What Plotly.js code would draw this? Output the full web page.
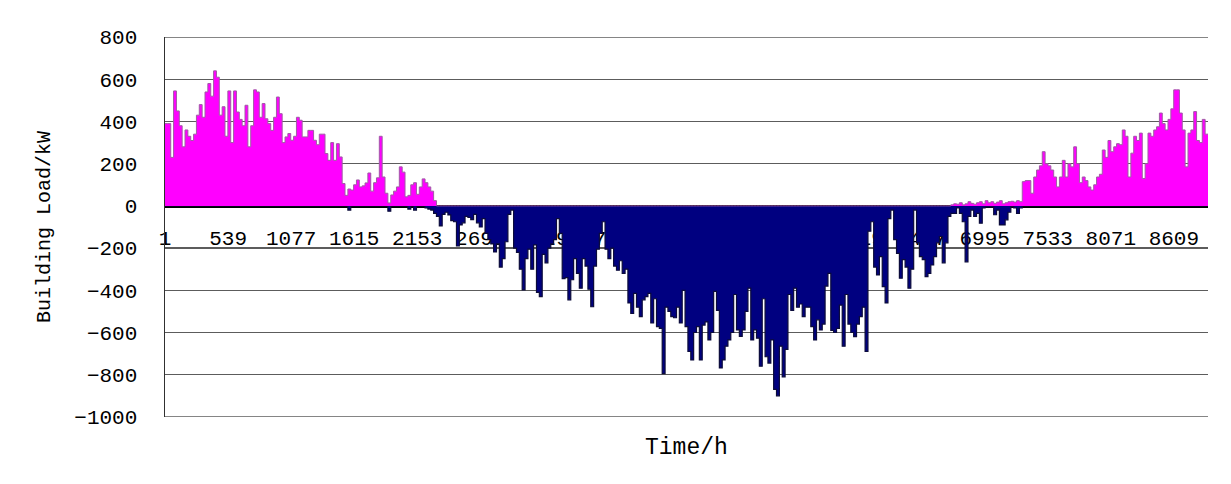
<!DOCTYPE html>
<html>
<head>
<meta charset="utf-8">
<script src="https://cdn.plot.ly/plotly-3.0.1.min.js"></script>
<style>html,body{margin:0;padding:0;background:#fff;}#chart{width:1231px;height:484px;}</style>
</head>
<body>
<div id="chart"></div>
<script>
// Number of hourly categories on the category axis
const totalHours = 8900;

// Tick labels of the category axis
const xTickLabels = ["1","539","1077","1615","2153","2691","3229","3767","4305","4843","5381","5919","6457","6995","7533","8071","8609"];
const yTicks = [-1000,-800,-600,-400,-200,0,200,400,600,800];

// Heating load (kW), one value per ~day-wide sample
const heatingLoad = [
  390,390,230,545,450,380,280,360,330,310, 340,430,480,420,540,580,520,640,610,430,
  470,330,545,300,545,445,410,380,477,280, 380,550,540,420,485,413,390,358,420,516,
  437,300,327,343,311,330,420,406,327,327, 358,358,311,290,340,340,248,216,300,216,
  295,232,106,50,
  80,75,100,123,90,95,109,156,70,110, 133,330,137,60,14,52,70,90,185,160,
  43,50,100,110,55,90,128,110,90,70, 25,
  0,0,0,0,0,0,0,0,0,0, 0,0,0,0,0,0,0,0,0,0,
  0,0,0,0,0,0,0,0,0,0, 0,0,0,0,0,0,0,0,0,0,
  0,0,0,0,0,0,0,0,0,0, 0,0,0,0,0,0,0,0,0,0,
  0,0,0,0,0,0,0,0,0,0, 0,0,0,0,0,0,0,0,0,0,
  0,0,0,0,0,0,0,0,0,0, 0,0,0,0,0,0,0,0,0,0,
  0,0,0,0,0,0,0,0,0,0, 0,0,0,0,0,0,0,0,0,0,
  0,0,0,0,0,0,0,0,0,0, 0,0,0,0,0,0,0,0,0,0,
  0,0,0,0,0,0,0,0,0,0, 0,0,0,0,0,0,0,0,0,0,
  0,0,0,0,0,0,0,0,0,0, 0,0,0,0,0,0,0,0,0,0,
  5,10,8,15,5,10,20,12,8,15, 20,10,25,15,20,12,18,25,10,15, 20,22,18,25,20,
  115,120,120,60,137,170,190,257,200,190, 170,137,90,137,216,137,200,185,280,200,
  110,137,120,90,75,100,137,150,265,230, 310,257,280,295,290,360,330,137,250,330,
  310,345,130,200,345,330,360,375,440,390, 360,410,460,550,550,440,360,185,345,360,
  447,310,300,410,340
];

// Cooling load (kW, negative), same sampling
const coolingLoad = [
  0,0,0,0,0,0,0,0,0,0, 0,0,0,0,0,0,0,0,0,0,
  0,0,0,0,0,0,0,0,0,0, 0,0,0,0,0,0,0,0,0,0,
  0,0,0,0,0,0,0,0,0,0, 0,0,0,0,0,0,0,0,0,0,
  0,0,0,0,
  -20,0,0,0,0,0,0,0,0,0, 0,0,0,0,-25,0,0,0,0,0, 0,-15,0,-20,0,0,0,-10,-15,
  -20,-35,-50,-95,-40,-30,-43,-70,-75,-190,
  -90,-80,-50,-55,-65,-40,-80,-100,-60,-130,
  -160,-180,-218,-180,-290,-250,-170,-40,-20,-200,
  -220,-300,-398,-250,-205,-300,-185,-410,-430,-230,
  -270,-200,-180,-160,-60,-130,-345,-340,-445,-350,
  -250,-320,-390,-250,-285,-395,-478,-285,-205,-130,
  -75,-205,-250,-200,-285,-305,-260,-320,-300,-460,-510,
  -415,-480,-525,-445,-430,-415,-555,-440,-572,-580,
  -795,-480,-500,-525,-530,-480,-555,-400,-572,-690,
  -730,-600,-572,-730,-565,-550,-635,-600,-405,-495,
  -768,-730,-665,-635,-600,-420,-588,-618,-588,-500,
  -390,-635,-588,-627,-760,-440,-715,-745,-635,-870,
  -900,-665,-810,-680,-420,-495,-390,-480,-465,-525,
  -480,-480,-572,-635,-540,-588,
  -560,-380,-320,-590,-600,-580,-470,-665,-420,-560,
  -600,-620,-560,-525,-480,-690,-120,-75,-290,-327,
  -240,-383,-460,-60,-20,-160,-225,-343,-255,-290,
  -390,-300,-20,-175,-240,-255,-335,-320,-280,-240,
  -175,-145,-270,-175,-50,-35,-35,-10,-35,-75,
  -265,-50,-20,-50,-35,-82,-10,-5,-5,-5,
  -42,-20,-90,-90,-66,-30,-3,-10,-35,-10,
  0,0,0,0,0,0,0,0,0,0, 0,0,0,0,0,0,0,0,0,0,
  0,0,0,0,0,0,0,0,0,0, 0,0,0,0,0,0,0,0,0,0,
  0,0,0,0,0,0,0,0,0,0, 0,0,0,0,0,0,0,0,0,0,
  0,0,0,0,0
];

const step = totalHours / heatingLoad.length;
function xs(n){ const a=[]; for(let i=0;i<=n;i++) a.push(0.5 + i*step); return a; }
function withEnd(arr){ return arr.concat([arr[arr.length-1]]); }

const xVals = xs(heatingLoad.length);
const tickVals = xTickLabels.map(s => Number(s));
const FONT = 'Liberation Mono, Courier New, monospace';
const GRID = '#5c5c5c';

const traces = [
  {
    type:'scatter', mode:'lines', x:xVals, y:withEnd(coolingLoad),
    line:{shape:'hv', color:'#0b0b3a', width:1.2},
    fill:'tozeroy', fillcolor:'#000080', hoverinfo:'skip', name:'Cooling'
  },
  {
    type:'scatter', mode:'lines', x:xVals, y:withEnd(heatingLoad),
    line:{shape:'hv', color:'#a05aa6', width:1},
    fill:'tozeroy', fillcolor:'#ff00ff', hoverinfo:'skip', name:'Heating'
  }
];

const yMin = yTicks[0], yMax = yTicks[yTicks.length-1];

const layout = {
  width:1231, height:484,
  margin:{l:165, r:23, t:37, b:67},
  paper_bgcolor:'#ffffff', plot_bgcolor:'#ffffff',
  showlegend:false,
  font:{family:FONT, color:'#000', size:21},
  xaxis:{
    range:[0.5, totalHours+0.5],
    anchor:'free', position: (0 - yMin)/(yMax - yMin),
    tickmode:'array', tickvals:tickVals, ticktext:xTickLabels,
    ticks:'', showgrid:false, zeroline:false,
    showline:true, linecolor:'#000000', linewidth:3, layer:'below traces',
    tickfont:{family:FONT, size:21, color:'#000'},
    ticklabelstandoff: 12
  },
  yaxis:{
    range:[yMin - 0.5, yMax + 0.5],
    tickmode:'array', tickvals:yTicks,
    ticks:'', showgrid:true, gridcolor:GRID, gridwidth:1.3,
    zeroline:false, showline:true, linecolor:'#303030', linewidth:1.5,
    tickfont:{family:FONT, size:21, color:'#000'},
    ticklabelstandoff: 22,
    title:{text:'Building Load/kW', font:{family:FONT, size:20, color:'#000'}, standoff:18}
  },
  shapes:[
    {type:'line', xref:'paper', yref:'y', x0:0, x1:1, y0:yMax, y1:yMax, layer:'below', line:{color:GRID, width:1.3}},
    {type:'line', xref:'paper', yref:'y', x0:0, x1:1, y0:yMin, y1:yMin, layer:'below', line:{color:GRID, width:1.3}}
  ],
  annotations:[
    {text:'Time/h', xref:'paper', yref:'paper', x:0.5, y:-0.082, xanchor:'center', yanchor:'middle',
     showarrow:false, font:{family:FONT, size:23, color:'#000'}}
  ]
};

Plotly.newPlot('chart', traces, layout, {staticPlot:true, displayModeBar:false});
</script>
</body>
</html>
